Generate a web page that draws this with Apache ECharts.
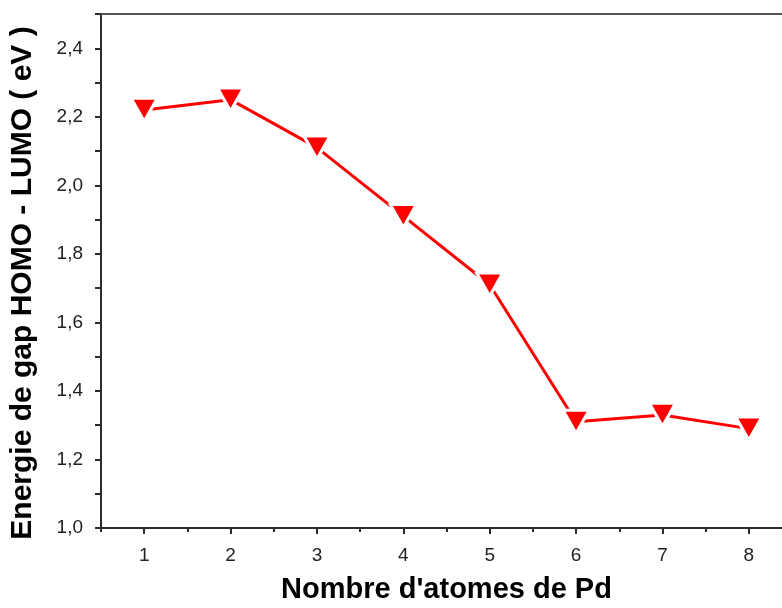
<!DOCTYPE html>
<html>
<head>
<meta charset="utf-8">
<script src="https://cdn.jsdelivr.net/npm/echarts@6/dist/echarts.min.js"></script>
<style>
  html, body { margin: 0; padding: 0; background: #fff; overflow: hidden; }
  #chart { width: 782px; height: 608px; }
</style>
</head>
<body>
<div id="chart"></div>
<script>
// Number of Pd atoms in the cluster
const atomCounts = [1, 2, 3, 4, 5, 6, 7, 8];
// HOMO-LUMO gap energy (eV)
const gapEnergy = [2.22, 2.25, 2.11, 1.91, 1.71, 1.31, 1.33, 1.29];
// Major tick labels
const xTickValues = [1, 2, 3, 4, 5, 6, 7, 8];
const yTickValues = [1.0, 1.2, 1.4, 1.6, 1.8, 2.0, 2.2, 2.4];

const xMin = 0.5, xMax = 8.5, yMin = 1.0, yMax = 2.5;

// minor ticks sit halfway between the major ones
const xMinor = [];
for (let i = 0; i <= xTickValues.length; i++) xMinor.push(xMin + i);

const axisColor = '#2b2b2b';
const labelFont = { fontFamily: 'Liberation Sans, Arial, sans-serif', fontSize: 19, color: '#222' };
const titleFont = { fontFamily: 'Liberation Sans, Arial, sans-serif', fontSize: 29, fontWeight: 'bold', color: '#000' };

const chart = echarts.init(document.getElementById('chart'), null, { renderer: 'canvas' });

chart.setOption({
  animation: false,
  backgroundColor: '#fff',
  // the plot frame runs past the right edge of the canvas
  grid: {
    left: 101, top: 14, width: 691, bottom: 80,
    outerBoundsMode: 'none', containLabel: false, show: false
  },
  xAxis: [
    {
      type: 'value', min: xMin, max: xMax, position: 'bottom',
      name: "Nombre d'atomes de Pd", nameLocation: 'middle', nameGap: 47,
      nameTextStyle: titleFont,
      axisLine: { show: true, onZero: false, lineStyle: { color: axisColor, width: 2 } },
      axisTick: { show: true, inside: false, length: 6, customValues: xTickValues, lineStyle: { color: axisColor, width: 2 } },
      axisLabel: Object.assign({ customValues: xTickValues, margin: 18, formatter: v => String(v) }, labelFont),
      splitLine: { show: false }
    },
    {
      type: 'value', min: xMin, max: xMax, position: 'bottom',
      axisLine: { show: false, onZero: false },
      axisTick: { show: true, inside: false, length: 4, customValues: xMinor, lineStyle: { color: axisColor, width: 2 } },
      axisLabel: { show: false },
      splitLine: { show: false }
    },
    {
      // top edge of the frame
      type: 'value', min: xMin, max: xMax, position: 'top',
      axisLine: { show: true, onZero: false, lineStyle: { color: '#555', width: 2 } },
      axisTick: { show: false },
      axisLabel: { show: false },
      splitLine: { show: false }
    }
  ],
  yAxis: [
    {
      // ticks every 0.1; labels only on the even tenths
      type: 'value', min: yMin, max: yMax, interval: 0.1, position: 'left',
      name: 'Energie de gap HOMO - LUMO ( eV )', nameLocation: 'middle', nameGap: 63,
      nameTextStyle: { fontFamily: titleFont.fontFamily, fontSize: 30, fontWeight: 'bold', color: '#000', padding: [0, 24, 0, 0] },
      axisLine: { show: true, onZero: false, lineStyle: { color: axisColor, width: 2 } },
      axisTick: { show: true, inside: false, length: 6, lineStyle: { color: axisColor, width: 2 } },
      axisLabel: Object.assign({ customValues: yTickValues, margin: 18, formatter: v => v.toFixed(1).replace('.', ',') }, labelFont),
      splitLine: { show: false }
    }
  ],
  series: [
    {
      type: 'line',
      xAxisIndex: 0, yAxisIndex: 0,
      data: atomCounts.map((n, i) => [n, gapEnergy[i]]),
      symbol: 'triangle', symbolRotate: 180, symbolSize: [26, 23],
      lineStyle: { color: '#ff0000', width: 3 },
      itemStyle: { color: '#ff0000', borderColor: '#ffffff', borderWidth: 3 },
      emphasis: { disabled: true },
      z: 3
    }
  ]
});
</script>
</body>
</html>
